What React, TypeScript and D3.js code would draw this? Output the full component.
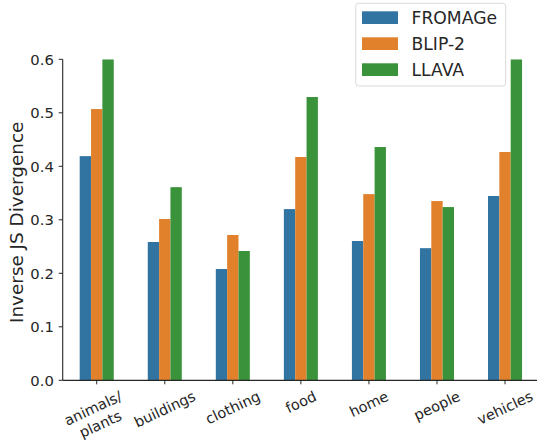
import React, { useEffect, useRef } from "react";
import * as d3 from "d3";

const categories = ["animals/\nplants", "buildings", "clothing", "food", "home", "people", "vehicles"];
const seriesNames = ["FROMAGe", "BLIP-2", "LLAVA"];
const fromage = [0.419, 0.2585, 0.208, 0.32, 0.2604, 0.247, 0.3445];
const blip2 = [0.507, 0.3015, 0.2716, 0.4174, 0.348, 0.335, 0.4267];
const llava = [0.6, 0.361, 0.2417, 0.5295, 0.436, 0.3238, 0.6];
const yTicks = [0, 0.1, 0.2, 0.3, 0.4, 0.5, 0.6];
const colors = ["#3274a1", "#e1812c", "#3a923a"];

const W = 537;
const H = 441;
const FONT = "DejaVu Sans";

export default function App() {
  const ref = useRef<SVGSVGElement>(null);

  useEffect(() => {
    const svg = d3.select(ref.current);
    svg.selectAll("*").remove();
    const series = [fromage, blip2, llava];

    const x = d3.scaleLinear().domain([-0.5, categories.length - 0.5]).range([62.7, 539.05]);
    const y = d3.scaleLinear().domain([0, 0.6]).range([380.3, 59.3]);
    const step = x(1) - x(0);
    const bw = (0.5 / 3) * step;

    svg.append("defs").append("clipPath").attr("id", "plotclip")
      .append("rect").attr("x", x(-0.5)).attr("y", y(0.6)).attr("width", x(6.5) - x(-0.5)).attr("height", y(0) - y(0.6));

    const gBars = svg.append("g").attr("clip-path", "url(#plotclip)");
    series.forEach((vals, si) => {
      gBars.selectAll(null).data(vals).enter().append("rect")
        .attr("x", (_d, i) => x(i) + (si - 1.5) * bw)
        .attr("width", bw)
        .attr("y", (d) => y(d))
        .attr("height", (d) => y(0) - y(d))
        .attr("fill", colors[si]);
    });

    // spines
    svg.append("line").attr("x1", x(-0.5)).attr("x2", x(-0.5)).attr("y1", y(0.6)).attr("y2", y(0))
      .attr("stroke", "#262626").attr("stroke-width", 1.1);
    svg.append("line").attr("x1", x(-0.5)).attr("x2", x(6.5)).attr("y1", y(0)).attr("y2", y(0))
      .attr("stroke", "#262626").attr("stroke-width", 1.25);

    // y ticks
    yTicks.forEach((t) => {
      svg.append("line").attr("x1", x(-0.5) - 4).attr("x2", x(-0.5)).attr("y1", y(t)).attr("y2", y(t))
        .attr("stroke", "#262626").attr("stroke-width", 1);
      svg.append("text").attr("x", x(-0.5) - 8.8).attr("y", y(t)).attr("dy", "0.36em")
        .attr("text-anchor", "end").attr("font-family", FONT).attr("font-size", 14.8).attr("fill", "#262626")
        .text(d3.format(".1f")(t));
    });

    // x ticks & labels
    const fs = 14.5;
    const ang = (25 * Math.PI) / 180;
    categories.forEach((c, i) => {
      svg.append("line").attr("x1", x(i)).attr("x2", x(i)).attr("y1", y(0)).attr("y2", y(0) + 4)
        .attr("stroke", "#262626").attr("stroke-width", 1);
      const lines = c.split("\n");
      const t = svg.append("text").attr("font-family", FONT).attr("font-size", fs).attr("fill", "#262626")
        .attr("text-anchor", "middle");
      const n = lines.length;
      lines.forEach((ln, li) => {
        t.append("tspan").attr("x", 0).attr("y", (li - (n - 1) / 2) * fs * 1.2).attr("dy", "0.35em").text(ln);
      });
      let w = 0;
      t.selectAll("tspan").each(function () {
        w = Math.max(w, (this as SVGTSpanElement).getComputedTextLength());
      });
      const h = fs * 1.17 + (n - 1) * fs * 1.2;
      const Hb = w * Math.sin(ang) + h * Math.cos(ang);
      const cy = y(0) + 7.3 + Hb / 2;
      t.attr("transform", `translate(${x(i)},${cy}) rotate(-25)`);
    });

    // y label
    svg.append("text").attr("transform", `translate(23.3,${(y(0) + y(0.6)) / 2 + 2.5}) rotate(-90)`)
      .attr("text-anchor", "middle").attr("font-family", FONT).attr("font-size", 18.4).attr("fill", "#262626")
      .text("Inverse JS Divergence");

    // legend
    const lg = svg.append("g");
    lg.append("rect").attr("x", 355.7).attr("y", 3.3).attr("width", 150).attr("height", 82.7)
      .attr("rx", 3).attr("fill", "white").attr("fill-opacity", 0.8).attr("stroke", "#d9d9d9").attr("stroke-width", 1);
    seriesNames.forEach((s, i) => {
      const yy = 11.3 + i * 26;
      lg.append("rect").attr("x", 362).attr("y", yy).attr("width", 36).attr("height", 12.7).attr("fill", colors[i]);
      lg.append("text").attr("x", 411.5).attr("y", yy + 6.35).attr("dy", "0.36em")
        .attr("font-family", FONT).attr("font-size", 17.2).attr("fill", "#262626").text(s);
    });
  }, []);

  return (
    <svg ref={ref} width={W} height={H} style={{ position: "absolute", left: 0, top: 0, background: "white" }} />
  );
}
